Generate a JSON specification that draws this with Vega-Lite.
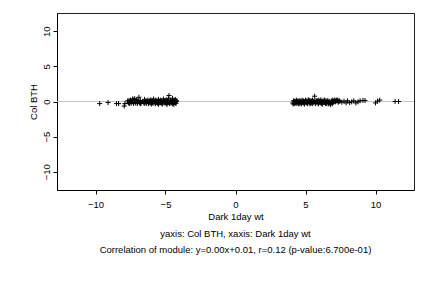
{
  "$schema": "https://vega.github.io/schema/vega-lite/v6.json",
  "autosize": {"type": "none"},
  "padding": {"left": 57, "top": 13, "right": 18, "bottom": 98},
  "width": 357,
  "height": 177,
  "background": "white",
  "config": {
    "font": "Liberation Sans",
    "view": {"stroke": "#222", "strokeWidth": 1},
    "axis": {"grid": false, "domainColor": "#000", "tickColor": "#000", "labelColor": "#000", "titleColor": "#000", "labelFont": "Liberation Sans", "titleFont": "Liberation Sans", "labelFontSize": 9.5, "titleFontSize": 9.5, "titleFontWeight": "normal", "tickSize": 4}
  },
  "title": {
    "text": ["yaxis: Col BTH, xaxis: Dark 1day wt", "Correlation of module: y=0.00x+0.01, r=0.12 (p-value:6.700e-01)"],
    "orient": "bottom",
    "anchor": "middle",
    "font": "Liberation Sans",
    "fontSize": 9.5,
    "fontWeight": "normal",
    "color": "#000",
    "lineHeight": 16,
    "offset": 8
  },
  "data": {"values": [
    {"x":-9.7,"y":-0.3},{"x":-9.1,"y":-0.15},{"x":-8.5,"y":-0.3},{"x":-8.35,"y":-0.3},{"x":-7.95,"y":-0.65},{"x":-7.9,"y":-0.3},
    {"x":-7.7,"y":0.1},{"x":-7.65,"y":-0.2},{"x":-7.6,"y":0.15},{"x":-7.55,"y":-0.1},{"x":-7.5,"y":0.2},{"x":-7.45,"y":-0.25},{"x":-7.4,"y":0.05},{"x":-7.35,"y":0.35},{"x":-7.3,"y":-0.15},{"x":-7.25,"y":0.3},{"x":-7.2,"y":0.4},{"x":-7.15,"y":-0.2},{"x":-7.1,"y":0.1},{"x":-7.05,"y":0.25},{"x":-7.0,"y":-0.1},{"x":-6.95,"y":0.05},{"x":-6.9,"y":0.6},{"x":-6.85,"y":-0.2},{"x":-6.8,"y":0.15},{"x":-6.75,"y":-0.25},
    {"x":-6.55,"y":-0.2},{"x":-6.5,"y":0.3},{"x":-6.45,"y":-0.1},{"x":-6.4,"y":0.1},{"x":-6.35,"y":-0.25},{"x":-6.3,"y":0.05},{"x":-6.25,"y":0.2},{"x":-6.2,"y":-0.15},{"x":-6.15,"y":0.1},{"x":-6.1,"y":-0.2},{"x":-6.05,"y":0.25},{"x":-6.0,"y":-0.05},{"x":-5.95,"y":0.15},{"x":-5.9,"y":-0.25},{"x":-5.85,"y":0.35},{"x":-5.8,"y":0.0},{"x":-5.75,"y":-0.2},{"x":-5.7,"y":0.2},{"x":-5.65,"y":-0.1},{"x":-5.6,"y":0.1},{"x":-5.55,"y":-0.3},{"x":-5.5,"y":0.3},{"x":-5.45,"y":0.05},{"x":-5.4,"y":-0.15},{"x":-5.35,"y":0.2},{"x":-5.3,"y":-0.25},{"x":-5.25,"y":0.1},{"x":-5.2,"y":-0.05},{"x":-5.15,"y":0.35},{"x":-5.1,"y":-0.2},{"x":-5.05,"y":0.15},{"x":-5.0,"y":-0.1},{"x":-4.95,"y":0.25},{"x":-4.9,"y":-0.3},{"x":-4.85,"y":0.05},{"x":-4.8,"y":0.4},{"x":-4.75,"y":0.85},{"x":-4.7,"y":-0.15},{"x":-4.65,"y":0.2},{"x":-4.6,"y":-0.25},{"x":-4.55,"y":0.1},{"x":-4.5,"y":0.45},{"x":-4.45,"y":-0.2},{"x":-4.4,"y":0.15},{"x":-4.35,"y":-0.1},{"x":-4.3,"y":0.3},{"x":-4.25,"y":-0.25},{"x":-4.2,"y":0.05},
    {"x":-6.48,"y":-0.28},{"x":-6.22,"y":-0.3},{"x":-5.98,"y":-0.22},{"x":-5.72,"y":-0.32},{"x":-5.48,"y":-0.2},{"x":-5.22,"y":-0.35},{"x":-4.98,"y":-0.22},{"x":-4.72,"y":-0.3},{"x":-4.48,"y":-0.35},{"x":-4.28,"y":-0.2},{"x":-7.58,"y":-0.3},{"x":-7.28,"y":-0.28},{"x":-7.02,"y":-0.3},{"x":-6.78,"y":-0.3},{"x":-6.02,"y":-0.38},{"x":-5.5,"y":-0.4},{"x":-4.9,"y":-0.42},{"x":-4.4,"y":-0.4},
    {"x":-6.62,"y":0.0},{"x":-6.12,"y":0.0},{"x":-5.62,"y":-0.02},{"x":-5.12,"y":0.0},{"x":-4.62,"y":0.0},{"x":-4.22,"y":0.1},
    {"x":4.1,"y":-0.2},{"x":4.15,"y":0.1},{"x":4.2,"y":-0.3},{"x":4.25,"y":0.05},{"x":4.3,"y":-0.15},{"x":4.35,"y":0.2},{"x":4.4,"y":-0.25},{"x":4.45,"y":0.0},{"x":4.5,"y":-0.1},{"x":4.55,"y":0.15},{"x":4.6,"y":-0.3},{"x":4.65,"y":0.05},{"x":4.7,"y":-0.2},{"x":4.75,"y":0.2},{"x":4.8,"y":-0.1},{"x":4.85,"y":0.1},{"x":4.9,"y":-0.25},{"x":4.95,"y":0.0},{"x":5.0,"y":0.2},{"x":5.05,"y":-0.15},{"x":5.1,"y":0.1},{"x":5.15,"y":-0.3},{"x":5.2,"y":0.25},{"x":5.25,"y":-0.05},{"x":5.3,"y":0.15},{"x":5.35,"y":-0.2},{"x":5.4,"y":0.1},{"x":5.45,"y":-0.25},{"x":5.5,"y":0.2},{"x":5.55,"y":-0.1},{"x":5.6,"y":0.05},{"x":5.65,"y":0.75},{"x":5.7,"y":-0.2},{"x":5.75,"y":0.15},{"x":5.8,"y":-0.05},{"x":5.85,"y":0.1},{"x":5.9,"y":-0.25},{"x":5.95,"y":0.2},{"x":6.0,"y":-0.1},{"x":6.05,"y":0.05},{"x":6.1,"y":0.25},{"x":6.15,"y":-0.2},{"x":6.2,"y":-0.4},{"x":6.25,"y":0.1},{"x":6.3,"y":-0.15},{"x":6.35,"y":0.2},{"x":6.4,"y":-0.05},{"x":6.45,"y":0.1},{"x":6.5,"y":-0.25},{"x":6.55,"y":0.05},{"x":6.6,"y":0.15},{"x":6.65,"y":-0.2},{"x":6.7,"y":0.0},{"x":6.75,"y":-0.3},{"x":6.8,"y":-0.45},{"x":6.85,"y":0.1},{"x":6.9,"y":-0.15},{"x":6.95,"y":0.2},{"x":7.0,"y":-0.1},{"x":7.05,"y":0.15},{"x":7.1,"y":0.2},{"x":7.15,"y":-0.05},{"x":7.2,"y":0.2},{"x":7.25,"y":0.05},{"x":7.3,"y":0.2},{"x":7.35,"y":-0.1},{"x":7.4,"y":0.15},{"x":7.45,"y":0.0},
    {"x":4.12,"y":-0.35},{"x":4.32,"y":-0.3},{"x":4.52,"y":-0.35},{"x":4.72,"y":-0.32},{"x":4.92,"y":-0.38},{"x":5.12,"y":-0.3},{"x":5.32,"y":-0.35},{"x":5.52,"y":-0.3},{"x":5.72,"y":-0.3},{"x":5.92,"y":-0.35},{"x":6.12,"y":-0.3},{"x":6.42,"y":-0.3},{"x":6.62,"y":-0.35},{"x":6.92,"y":-0.3},{"x":4.22,"y":0.0},{"x":4.42,"y":0.05},{"x":4.62,"y":0.0},{"x":4.82,"y":-0.05},{"x":5.02,"y":0.0},{"x":5.22,"y":0.05},{"x":5.42,"y":0.0},{"x":5.62,"y":-0.05},{"x":5.82,"y":0.0},{"x":6.02,"y":0.0},
    {"x":7.6,"y":-0.1},{"x":7.75,"y":0.05},{"x":7.9,"y":-0.2},{"x":8.0,"y":0.1},{"x":8.15,"y":-0.15},{"x":8.3,"y":-0.05},{"x":8.45,"y":0.1},{"x":8.6,"y":-0.2},{"x":8.75,"y":-0.05},{"x":8.9,"y":0.1},{"x":9.1,"y":0.15},{"x":9.25,"y":0.15},{"x":10.0,"y":-0.2},{"x":10.15,"y":0.05},{"x":10.3,"y":0.2},{"x":11.4,"y":0.0},{"x":11.65,"y":0.0}
  ]},
  "layer": [
    {
      "mark": {"type": "rule", "color": "#c4c4c4", "strokeWidth": 1},
      "encoding": {"y": {"datum": 0, "type": "quantitative", "scale": {"domain": [-12.6, 12.6], "nice": false, "zero": false}}}
    },
    {
      "mark": {"type": "point", "shape": "M-1,0H1M0,-1V1", "filled": false, "stroke": "#000", "strokeWidth": 1, "size": 25, "opacity": 1},
      "encoding": {
        "x": {"field": "x", "type": "quantitative", "scale": {"domain": [-12.75, 12.75], "nice": false, "zero": false}, "axis": {"values": [-10, -5, 0, 5, 10], "title": "Dark 1day wt", "labelPadding": 5, "titlePadding": 3}},
        "y": {"field": "y", "type": "quantitative", "scale": {"domain": [-12.6, 12.6], "nice": false, "zero": false}, "axis": {"values": [-10, -5, 0, 5, 10], "title": "Col BTH", "labelAngle": -90, "labelAlign": "center", "labelBaseline": "bottom", "labelPadding": 2, "titlePadding": 3}}
      }
    }
  ]
}
